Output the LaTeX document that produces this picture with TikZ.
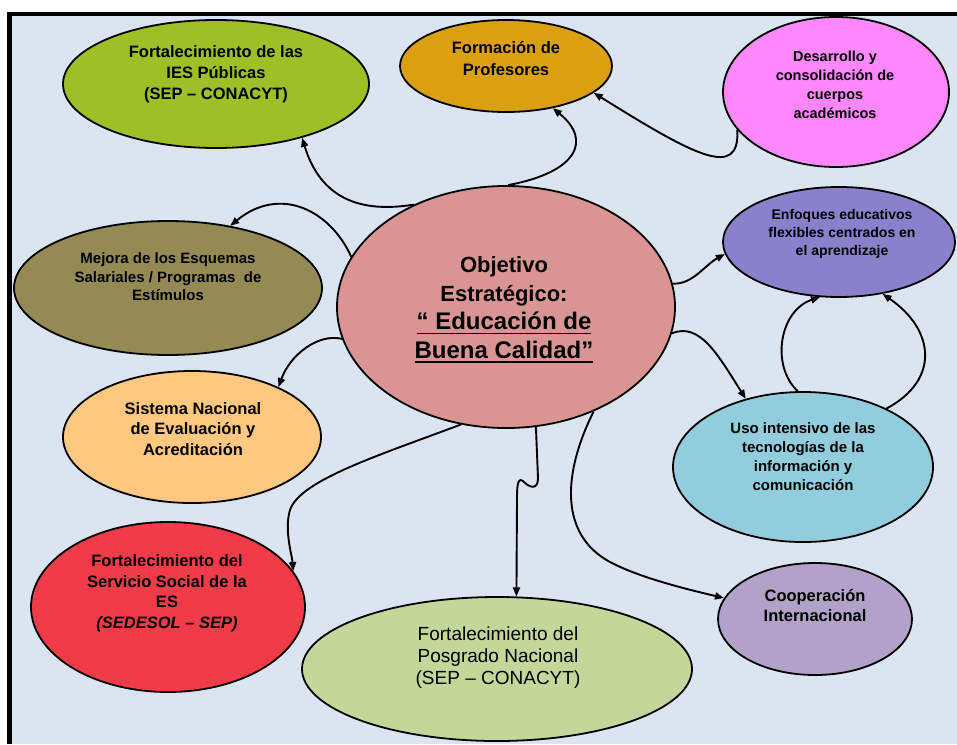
\documentclass[tikz,border=0pt]{standalone}
\usepackage{fontspec}
\setmainfont{Liberation Sans}
\usetikzlibrary{shapes.geometric, arrows.meta, calc}

\definecolor{bgblue}{RGB}{219,229,241}
\definecolor{iesgreen}{RGB}{158,192,38}
\definecolor{formgold}{RGB}{218,160,16}
\definecolor{despink}{RGB}{255,136,255}
\definecolor{mejolive}{RGB}{148,138,84}
\definecolor{objrose}{RGB}{217,149,148}
\definecolor{enfviolet}{RGB}{138,128,204}
\definecolor{sisorange}{RGB}{255,200,128}
\definecolor{usocyan}{RGB}{146,205,221}
\definecolor{sssred}{RGB}{240,60,72}
\definecolor{poslime}{RGB}{196,215,155}
\definecolor{cooplilac}{RGB}{179,162,199}

\newlength\ulwid
\newcommand{\thickul}[1]{\settowidth{\ulwid}{#1}\rlap{#1}\rule[-4.5pt]{\ulwid}{1.8pt}}

\begin{document}
\begin{tikzpicture}[
    x=1pt, y=-1pt,
    >={Triangle[length=9pt,width=7pt]},
    blob/.style={ellipse, draw=black, line width=1.8pt, inner sep=0pt},
    txt/.style={align=center, inner sep=0pt},
    conn/.style={->, line width=1.9pt, black}
  ]
    % frame and background
    \useasboundingbox (0,0) rectangle (957,744);
    \fill[black] (7,12) rectangle (957,744);
    \fill[bgblue] (12,16) rectangle (957,744);

    % ellipses
    \node[blob, fill=iesgreen, minimum width=306pt, minimum height=128pt] (ies) at (216,84) {};
    \node[blob, fill=formgold, minimum width=212pt, minimum height=92pt] (form) at (506,66) {};
    \node[blob, fill=despink, minimum width=226pt, minimum height=150pt] (des) at (836,92) {};
    \node[blob, fill=mejolive, minimum width=308pt, minimum height=134pt] (mej) at (168,288) {};
    \node[blob, fill=objrose, minimum width=338pt, minimum height=242pt] (obj) at (506,307) {};
    \node[blob, fill=enfviolet, minimum width=232pt, minimum height=110pt] (enf) at (839,242) {};
    \node[blob, fill=sisorange, minimum width=258pt, minimum height=132pt] (sis) at (192,437) {};
    \node[blob, fill=usocyan, minimum width=260pt, minimum height=150pt] (uso) at (803,467) {};
    \node[blob, fill=sssred, minimum width=274pt, minimum height=170pt] (sss) at (168,607) {};
    \node[blob, fill=poslime, minimum width=390pt, minimum height=144pt] (pos) at (497,669) {};
    \node[blob, fill=cooplilac, minimum width=194pt, minimum height=112pt] (coop) at (815,619) {};

    % texts
    \node[txt, font=\bfseries\fontsize{16.5}{21}\selectfont] (ies-t) at (216,74)
    {Fortalecimiento de las\\IES Públicas\\(SEP – CONACYT)};
    \node[txt, font=\bfseries\fontsize{16.5}{22}\selectfont] (form-t) at (506,59)
    {Formación de\\Profesores};
    \node[txt, font=\bfseries\fontsize{14.5}{19}\selectfont] (des-t) at (835,85)
    {Desarrollo y\\consolidación de\\cuerpos\\académicos};
    \node[txt, font=\bfseries\fontsize{15}{18.5}\selectfont] (mej-t) at (168,277)
    {Mejora de los Esquemas\\Salariales / Programas~ de\\Estímulos};
    \node[txt, font=\bfseries\fontsize{22}{28.5}\selectfont] (obj-t) at (504,310)
    {Objetivo\\Estratégico:\\{\fontsize{24}{28.5}\selectfont\thickul{“ Educación de}}\\{\fontsize{24}{28.5}\selectfont\thickul{Buena Calidad”}}};
    \node[txt, font=\bfseries\fontsize{14}{18}\selectfont] (enf-t) at (842,234)
    {Enfoques educativos\\flexibles centrados en\\el aprendizaje};
    \node[txt, font=\bfseries\fontsize{16.5}{20.5}\selectfont] (sis-t) at (193,429)
    {Sistema Nacional\\de Evaluación y\\Acreditación};
    \node[txt, font=\bfseries\fontsize{15}{19}\selectfont] (uso-t) at (803,457)
    {Uso intensivo de las\\tecnologías de la\\información y\\comunicación};
    \node[txt, font=\bfseries\fontsize{16.5}{20.5}\selectfont] (sss-t) at (167,593)
    {Fortalecimiento del\\Servicio Social de la\\ES\\\textit{(SEDESOL – SEP)}};
    \node[txt, font=\fontsize{19}{22}\selectfont] (pos-t) at (498,658)
    {Fortalecimiento del\\Posgrado Nacional\\(SEP – CONACYT)};
    \node[txt, font=\bfseries\fontsize{16.5}{20}\selectfont] (coop-t) at (815,606)
    {Cooperación\\Internacional};

    % connectors
    \draw[conn] (obj.132) .. controls (350,215) and (318,190) .. (ies.328);
    \draw[conn] (obj.162) .. controls (330,210) and (280,185) .. (mej.45);
    \draw[conn] (obj.89) .. controls (578,172) and (592,140) .. (form.318);
    \draw[conn] (des.201) .. controls (740,180) and (695,156) .. (form.343);
    \draw[conn] (obj.8) .. controls (692,285) and (705,265) .. (enf.186);
    \draw[conn] (obj.351) .. controls (700,322) and (718,355) .. (uso.130);
    \draw[conn] (uso.94) .. controls (770,365) and (780,310) .. (enf.251);
    \draw[conn] (uso.35) .. controls (940,380) and (935,330) .. (enf.310);
    \draw[conn] (obj.191) .. controls (318,333) and (290,355) .. (sis.30);
    \draw[conn] (obj.249) .. controls (380,455) and (300,480) .. (290,510)
      .. controls (284,530) and (292,555) .. (sss.16);
    \draw[conn] (obj.284) -- (538,478) .. controls (538,490) and (530,488) .. (524,482)
      .. controls (518,476) and (517,485) .. (517,497) -- (pos.75);
    \draw[conn] (obj.310) .. controls (562,475) and (560,535) .. (610,562)
      .. controls (640,578) and (690,590) .. (coop.167);
\end{tikzpicture}
\end{document}
